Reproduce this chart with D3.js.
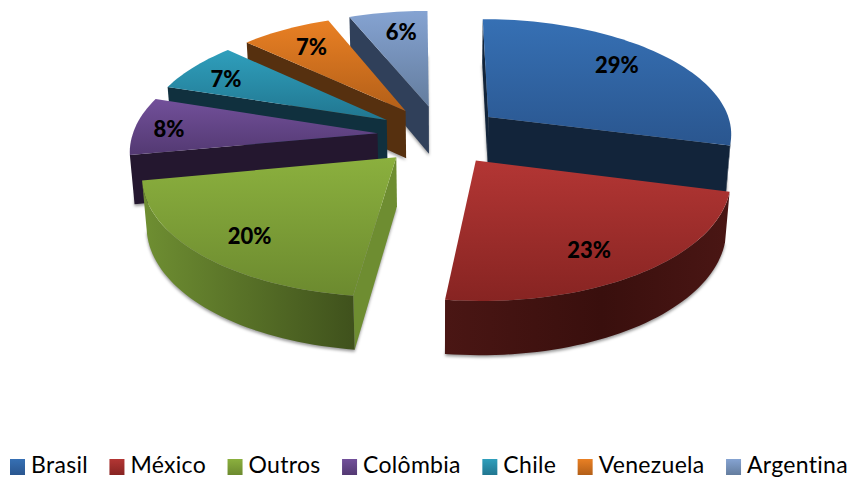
<!DOCTYPE html>
<html lang="pt">
<head>
<meta charset="utf-8">
<script src="https://cdn.jsdelivr.net/npm/d3@7/dist/d3.min.js"></script>
<style>
  html, body { margin: 0; padding: 0; background: #fff; }
  svg { display: block; }
  text { font-family: Lato, "Open Sans", sans-serif; fill: #000; }
</style>
</head>
<body>
<svg id="chart" width="851" height="478"></svg>
<script>
// Market share by country, drawn as an exploded pie in perspective.
const categories = ["Brasil", "México", "Outros", "Colômbia", "Chile", "Venezuela", "Argentina"];
const shares = [29, 23, 20, 8, 7, 7, 6];

const topLight  = ["#3670b4", "#b33634", "#8bb03e", "#72509a", "#2f9fbc", "#e98024", "#85a3d2"];
const topDark   = ["#2a568f", "#872422", "#6c8a2f", "#533972", "#217690", "#b35f18", "#647d9e"];
const cutColor  = ["#12243a", "#3f1210", "#6e8d31", "#24172f", "#10303e", "#56300f", "#30405a"];
const wallEdge  = ["#12243a", "#4a1614", "#6f8f32", "#24172f", "#10303e", "#5c3210", "#30405a"];
const wallMid   = ["#12243a", "#390f0d", "#3f511c", "#24172f", "#10303e", "#50290c", "#30405a"];
const labelNudge = [[-5, -4], [-8, 8], [-4, 8], [-27, 2], [-14, 0], [-2, -1], [4, -2]];

const svg = d3.select("#chart");
const defs = svg.append("defs");

// Perspective settings: pie radius is 1 in ground coordinates.
const centre = { x: 441, y: 135 };
const explode = 0.26, perspective = 0.13, taper = 0.015, labelRadius = 0.75;
const backLean = 2.6, rightShift = -2;
const groundX = d3.scaleLinear().domain([0, 1]).range([0, 245]);
const groundY = d3.scaleLinear().domain([0, 1]).range([0, -115]);
const extrude = d3.scaleLinear().domain([0, 1]).range([0, 49]);

function project(X, Y, Z) {
  const w = 1 + perspective * Y + taper * Z;
  const lean = X < 0 ? backLean * Math.max(Y, 0) : 0;
  return [centre.x + groundX(X) / w - lean, centre.y + (groundY(Y) + extrude(Z)) / w];
}

const pie = d3.pie().sort(null).value(d => d);
const arcs = pie(shares);
const path = d3.line();
const closed = pts => path(pts) + "Z";

// Twice the signed screen area; the sign tells which way a face looks.
const signedArea = pts => d3.sum(pts, (p, i) => {
  const q = pts[(i + 1) % pts.length];
  return p[0] * q[1] - q[0] * p[1];
});

function gradient(id, horizontal, stops) {
  const g = defs.append("linearGradient").attr("id", id)
    .attr("x1", 0).attr("y1", 0)
    .attr("x2", horizontal ? 1 : 0).attr("y2", horizontal ? 0 : 1);
  stops.forEach(([o, c]) => g.append("stop").attr("offset", o).attr("stop-color", c));
}

categories.forEach((_, i) => {
  gradient(`top${i}`, false, [[0, topLight[i]], [1, topDark[i]]]);
  gradient(`wall${i}`, true, i === 2
    ? [[0, wallEdge[i]], [1, wallMid[i]]]
    : [[0, wallEdge[i]], [0.55, wallMid[i]], [1, wallEdge[i]]]);
});

defs.append("filter").attr("id", "soft")
  .attr("x", "-10%").attr("y", "-10%").attr("width", "120%").attr("height", "120%")
  .append("feGaussianBlur").attr("stdDeviation", 1.6);

// Slices are painted from the back of the pie to the front.
const paintOrder = [6, 5, 4, 3, 0, 2, 1];
const layer = svg.append("g");

paintOrder.forEach(i => {
  const a = arcs[i];
  const mid = (a.startAngle + a.endAngle) / 2;
  const ox = explode * Math.sin(mid), oy = explode * Math.cos(mid);
  const steps = Math.max(8, Math.ceil((a.endAngle - a.startAngle) / 0.03));
  const angles = d3.range(steps + 1).map(s => a.startAngle + (a.endAngle - a.startAngle) * s / steps);
  const rim = z => angles.map(t => project(ox + Math.sin(t), oy + Math.cos(t), z));
  const apex = z => project(ox, oy, z);

  const rimTop = rim(0), rimBase = rim(1);
  const g = layer.append("g")
    .attr("transform", `translate(${Math.sin(mid) > 0 ? rightShift : 0},0)`);

  // Soft shadow cast by the underside of the slice.
  g.append("path")
    .attr("d", closed([apex(1), ...rimBase]))
    .attr("transform", "translate(0,2)")
    .attr("fill", "#000").attr("fill-opacity", 0.4)
    .attr("filter", "url(#soft)");

  // Two cut faces, kept only when they look towards the viewer.
  const startFace = [apex(0), rimTop[0], rimBase[0], apex(1)];
  const endFace = [apex(0), rimTop[steps], rimBase[steps], apex(1)];
  if (signedArea(startFace) < 0) g.append("path").attr("d", closed(startFace)).attr("fill", cutColor[i]);
  if (signedArea(endFace) > 0) g.append("path").attr("d", closed(endFace)).attr("fill", cutColor[i]);

  // Outer wall: only the stretch of the rim facing the viewer.
  const facing = d3.range(steps).filter(s =>
    signedArea([rimTop[s], rimTop[s + 1], rimBase[s + 1], rimBase[s]]) < 0);
  if (facing.length) {
    const first = facing[0], last = facing[facing.length - 1] + 1;
    g.append("path")
      .attr("d", closed([...rimTop.slice(first, last + 1), ...rimBase.slice(first, last + 1).reverse()]))
      .attr("fill", `url(#wall${i})`);
  }

  g.append("path")
    .attr("d", closed([apex(0), ...rimTop]))
    .attr("fill", `url(#top${i})`);
});

// Percentage labels sit above every slice.
const labels = svg.append("g")
  .attr("font-size", 22).attr("font-weight", 900).attr("text-anchor", "middle");
arcs.forEach((a, i) => {
  const mid = (a.startAngle + a.endAngle) / 2;
  const r = explode + labelRadius;
  const [x, y] = project(r * Math.sin(mid), r * Math.cos(mid), 0);
  labels.append("text")
    .attr("x", x + labelNudge[i][0])
    .attr("y", y + labelNudge[i][1])
    .attr("dy", "0.35em")
    .text(`${a.data}%`);
});

// Legend along the bottom, spread evenly between its two ends.
const legendLeft = 10, legendRight = 848, swatch = 15, swatchGap = 6, baseline = 473;
const legend = svg.append("g").attr("font-size", 23).attr("letter-spacing", 0.3);
const items = categories.map((name, i) => {
  const g = legend.append("g");
  g.append("rect").attr("y", 459).attr("width", swatch).attr("height", 16).attr("fill", `url(#top${i})`);
  const t = g.append("text").attr("x", swatch + swatchGap).attr("y", baseline).text(name);
  return { g, width: swatch + swatchGap + t.node().getComputedTextLength() };
});
const gap = (legendRight - legendLeft - d3.sum(items, d => d.width)) / (items.length - 1);
let cursor = legendLeft;
items.forEach(d => {
  d.g.attr("transform", `translate(${cursor},0)`);
  cursor += d.width + gap;
});
</script>
</body>
</html>
